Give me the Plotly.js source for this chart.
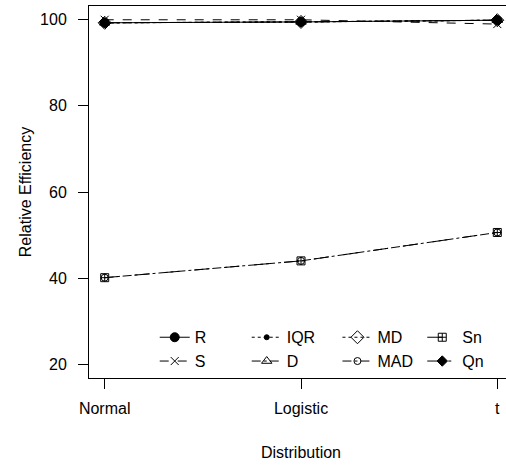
<!DOCTYPE html>
<html>
<head>
<meta charset="utf-8">
<script src="https://cdn.plot.ly/plotly-3.0.1.min.js"></script>
<style>
html,body{margin:0;padding:0;overflow:hidden;background:#fff;}
#chart{width:520px;height:466px;}
</style>
</head>
<body>
<div id="chart"></div>
<script>
// Data
const distributions = ["Normal", "Logistic", "t"];
const estR   = [99.3, 99.5, 99.9];
const estS   = [100.0, 100.0, 99.0];
const estIQR = [99.3, 99.5, 99.9];
const estD   = [99.3, 99.5, 99.9];
const estMD  = [99.3, 99.5, 99.9];
const estMAD = [40.1, 44.0, 50.6];
const estSn  = [40.1, 44.0, 50.6];
const estQn  = [99.3, 99.5, 99.9];

const names   = ["R", "S", "IQR", "D", "MD", "MAD", "Sn", "Qn"];
const values  = [estR, estS, estIQR, estD, estMD, estMAD, estSn, estQn];
const dashes  = ["solid", "dash", "dot", "dashdot", "dot", "dashdot", "longdash", "longdashdot"];
const symbols = ["circle", "x-thin-open", "circle", "triangle-up-open", "diamond-open", "circle-open", "square-cross-open", "diamond"];
const sizes   = [9, 8, 5, 9, 10, 7, 8, 8];
const legendIds = ["legend", "legend", "legend2", "legend2", "legend3", "legend3", "legend4", "legend4"];

const traces = names.map((n, i) => ({
  x: distributions,
  y: values[i],
  name: n,
  type: "scatter",
  mode: "lines+markers",
  legend: legendIds[i],
  line: {color: "black", width: 1, dash: dashes[i]},
  marker: {color: "black", symbol: symbols[i], size: sizes[i], line: {color: "black", width: 1}}
}));

const font = {family: "Liberation Sans, Arial, sans-serif", size: 16, color: "black"};
const legendBase = {
  orientation: "v", xanchor: "left", y: 0.155, yanchor: "top",
  bgcolor: "rgba(0,0,0,0)", borderwidth: 0, font: font, traceorder: "normal"
};

const layout = {
  width: 520, height: 466,
  margin: {l: 89, r: 7, t: 6, b: 88},
  paper_bgcolor: "white", plot_bgcolor: "white",
  font: font,
  showlegend: true,
  legend:  Object.assign({}, legendBase, {x: 0.155}),
  legend2: Object.assign({}, legendBase, {x: 0.372}),
  legend3: Object.assign({}, legendBase, {x: 0.586}),
  legend4: Object.assign({}, legendBase, {x: 0.786}),
  xaxis: {
    type: "category", range: [-0.08, 2.08],
    showline: true, mirror: true, linecolor: "black", linewidth: 1,
    ticks: "outside", ticklen: 10, tickcolor: "black", tickwidth: 1,
    showgrid: false, zeroline: false, ticklabelstandoff: 6,
    title: {text: "Distribution", font: font, standoff: 30}
  },
  yaxis: {
    range: [16.8, 103.2], tickvals: [20, 40, 60, 80, 100],
    showline: true, mirror: true, linecolor: "black", linewidth: 1,
    ticks: "outside", ticklen: 10, tickcolor: "black", tickwidth: 1,
    showgrid: false, zeroline: false, ticklabelstandoff: 8,
    title: {text: "Relative Efficiency", font: font, standoff: 4}
  }
};

Plotly.newPlot("chart", traces, layout, {staticPlot: true, displayModeBar: false});
</script>
</body>
</html>
